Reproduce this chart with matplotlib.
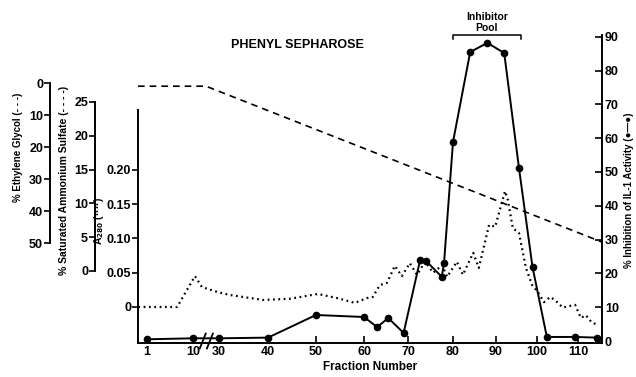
import numpy as np
import matplotlib.pyplot as plt

plt.rcParams['font.family'] = ['Liberation Sans', 'DejaVu Sans']
plt.rcParams['font.weight'] = 'bold'

# broken x axis: fraction number -> position along the axis
frac_breaks = [-10, 1, 10, 30, 40, 50, 60, 70, 80, 90, 100, 110, 130]
axis_pos = [90.8, 147, 193, 219, 268, 316, 364, 408, 453, 496, 537, 578, 660]

tick_fracs = [1, 10, 30, 40, 50, 60, 70, 80, 90, 100, 110]
tick_labels = ['1', '10', '30', '40', '50', '60', '70', '80', '90', '100', '110']

# % inhibition of IL-1 activity (solid, right axis)
il1_frac = [1, 10, 30, 40, 50, 60, 63, 65.5, 69, 72.7, 74, 77.5, 78, 80,
            84, 88, 92, 95.6, 98.9, 102.4, 109.3, 114.6]
il1_inhib = [0.5, 0.8, 0.8, 1, 7.7, 7.1, 4.1, 6.8, 2.4, 24, 23.7, 19, 23, 58.9,
             85.5, 88.2, 85.2, 51.2, 21.9, 1.2, 1.2, 1]

# A280 (dotted)
a280_frac = [-0.7, 1, 6.9, 11.5, 16.9, 28.5, 32.2, 34.9, 39, 44.6, 50.4, 54.4,
             58.1, 60.7, 62, 63.6, 65.2, 67, 68.6, 70.4, 72, 73.8, 75.6, 77.6,
             78.7, 80.9, 82.3, 84.7, 86, 88.4, 89.8, 92.2, 92.9, 94.1, 95.6,
             97.3, 98.8, 100.2, 101.7, 103.2, 104.4, 106.3, 107.6, 109.3,
             110.7, 111.9, 113.4, 114.9]
a280 = [0, 0, 0, 0.045, 0.029, 0.022, 0.0175, 0.0146, 0.0102, 0.012, 0.019,
        0.013, 0.006, 0.013, 0.0146, 0.032, 0.035, 0.060, 0.045, 0.064, 0.047,
        0.066, 0.050, 0.061, 0.044, 0.066, 0.047, 0.079, 0.057, 0.120, 0.117,
        0.169, 0.156, 0.115, 0.108, 0.057, 0.032, 0.022, 0.007, 0.0146, 0.010,
        -0.001, 0.001, 0.003, -0.016, -0.012, -0.023, -0.026]

# gradient (dashed), in % ethylene glycol
grad_frac = [-0.76, 20, 115.85]
grad_eg = [1, 1, 49.7]

pool_frac = [80, 96]


def fwd(x):
    return np.interp(x, frac_breaks, axis_pos)


def inv(x):
    return np.interp(x, axis_pos, frac_breaks)


W, H = 636, 377
fig = plt.figure(figsize=(W / 100, H / 100), dpi=100)
rect = [138 / W, (H - 343) / H, 464 / W, 308 / H]
ax = fig.add_axes(rect)
ax.set_xscale('function', functions=(fwd, inv))
ax.set_xlim(-0.76, 115.85)

fs = 9
lw_sp = 1.4

# A280 axis
ax.plot(a280_frac, a280, color='black', lw=1.6, ls=(0, (0.8, 1.6)), zorder=2)
ax.set_ylim(-0.0526, 0.397)
ax.set_yticks([0, 0.05, 0.10, 0.15, 0.20])
ax.set_yticklabels(['0', '0.05', '0.10', '0.15', '0.20'])
ax.spines['left'].set_bounds(-0.0526, 0.2876)
ax.spines['top'].set_visible(False)
ax.spines['right'].set_visible(False)
for s in ['left', 'bottom']:
    ax.spines[s].set_linewidth(lw_sp)
ax.set_xticks(tick_fracs)
ax.set_xticklabels(tick_labels)
ax.tick_params(axis='x', direction='in', length=5, width=1.2, labelsize=fs, pad=2)
ax.tick_params(axis='y', direction='out', length=4, width=1.2, labelsize=fs, pad=1)
ax.set_xlabel('Fraction Number', fontsize=8.5, fontweight='bold', labelpad=2)
ax.patch.set_visible(False)

# right axis: % inhibition
axr = ax.twinx()
axr.plot(il1_frac, il1_inhib, color='black', lw=1.4, marker='o', ms=4.5, zorder=3)
axr.set_ylim(-0.59, 90.53)
axr.set_yticks(np.arange(0, 91, 10))
for s in ['left', 'top', 'bottom']:
    axr.spines[s].set_visible(False)
axr.spines['right'].set_linewidth(lw_sp)
axr.tick_params(axis='y', direction='in', length=5, width=1.2, labelsize=fs, pad=2)

# break mark on the x axis
for f in [17.5, 23]:
    axr.plot([f - 2.3, f + 2.3], [-2.2, 2.2], color='black', lw=1.3, clip_on=False)

# ethylene glycol axis (dashed gradient)
axe = fig.add_axes(rect, sharex=ax)
axe.patch.set_visible(False)
axe.plot(grad_frac, grad_eg, color='black', lw=1.2, ls=(0, (4, 3)))
axe.set_ylim(81.25, -15)
axe.set_yticks([0, 10, 20, 30, 40, 50])
for s in ['right', 'top', 'bottom']:
    axe.spines[s].set_visible(False)
axe.spines['left'].set_position(('axes', (50 - 138) / 464))
axe.spines['left'].set_bounds(0, 50)
axe.spines['left'].set_linewidth(lw_sp)
axe.tick_params(axis='x', which='both', bottom=False, labelbottom=False)
axe.tick_params(axis='y', direction='out', length=4, width=1.2, labelsize=fs, pad=1)

# ammonium sulfate axis
axa = fig.add_axes(rect, sharex=ax)
axa.patch.set_visible(False)
axa.set_ylim(-10.65, 34.9)
axa.set_yticks([0, 5, 10, 15, 20, 25])
for s in ['right', 'top', 'bottom']:
    axa.spines[s].set_visible(False)
axa.spines['left'].set_position(('axes', (95 - 138) / 464))
axa.spines['left'].set_bounds(0, 25)
axa.spines['left'].set_linewidth(lw_sp)
axa.tick_params(axis='x', which='both', bottom=False, labelbottom=False)
axa.tick_params(axis='y', direction='out', length=4, width=1.2, labelsize=fs, pad=1)

# inhibitor pool bracket
axr.plot([pool_frac[0], pool_frac[0], pool_frac[1], pool_frac[1]],
         [89.3, 90.5, 90.5, 89.3], color='black', lw=1.1, clip_on=False)
fig.text(487 / W, 1 - 17 / H, 'Inhibitor', ha='center', va='center', fontsize=7.5)
fig.text(487 / W, 1 - 28 / H, 'Pool', ha='center', va='center', fontsize=7.5)

fig.text(297 / W, 1 - 45 / H, 'PHENYL SEPHAROSE', ha='center', va='center', fontsize=9)

# axis titles
fig.text(18 / W, 1 - 147 / H, '% Ethylene Glycol (- - -)', rotation=90,
         ha='center', va='center', fontsize=7)
fig.text(64 / W, 1 - 180 / H, '% Saturated Ammonium Sulfate (- - - -)', rotation=90,
         ha='center', va='center', fontsize=7.5)
fig.text(99 / W, 1 - 221 / H, 'A$_{280}$ (\u00b7\u00b7\u00b7\u00b7)', rotation=90,
         ha='center', va='center', fontsize=7.5)
fig.text(629 / W, 1 - 190 / H, '% Inhibition of IL-1 Activity (\u25cf\u2014\u25cf)',
         rotation=90, ha='center', va='center', fontsize=7)

fig.savefig('out.png', dpi=100)
